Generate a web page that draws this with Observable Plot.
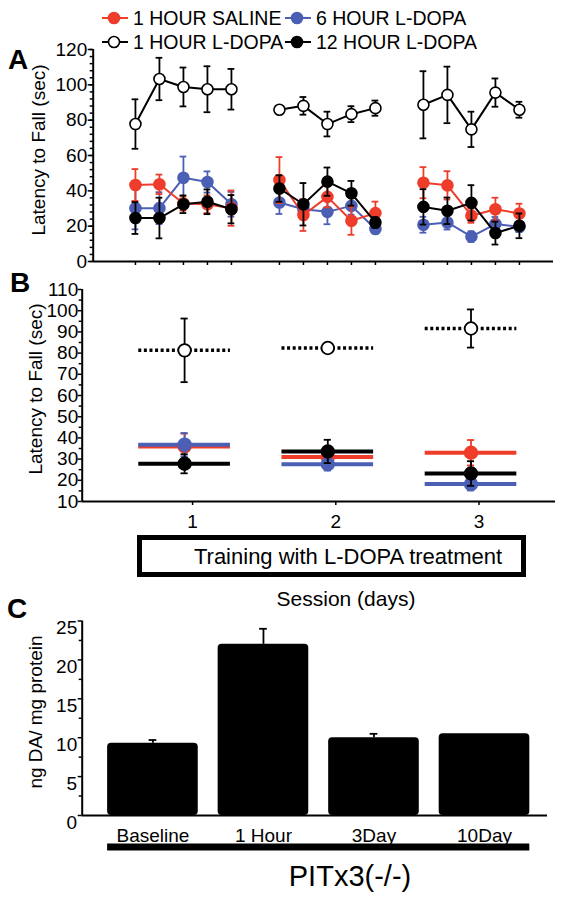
<!DOCTYPE html>
<html><head><meta charset="utf-8">
<script src="https://cdn.jsdelivr.net/npm/d3@7"></script>
<script src="https://cdn.jsdelivr.net/npm/@observablehq/plot@0.6"></script>
<style>
body{margin:0;background:#fff;}
#root{position:relative;width:567px;height:902px;font-family:"Liberation Sans",Arial,Helvetica,sans-serif;overflow:hidden;color:#000;}
#root svg{position:absolute;left:0;}
.abs{position:absolute;white-space:nowrap;line-height:1;}
.c{transform:translate(-50%,-50%);}
.rot{transform:translate(-50%,-50%) rotate(-90deg);}
.panel{font-weight:bold;font-size:28px;}
</style></head><body><div id="root"></div>
<script>
// ---------- DATA ----------
const seriesNames = ["1 HOUR SALINE", "6 HOUR L-DOPA", "1 HOUR L-DOPA", "12 HOUR L-DOPA"];
const seriesStroke = ["#ee3d2b", "#4b5fb4", "#000000", "#000000"];
const seriesFill = ["#ee3d2b", "#4b5fb4", "#ffffff", "#000000"];

// Panel A: trial positions (three sessions of five trials)
const trialPositions = [1, 2, 3, 4, 5, 7, 8, 9, 10, 11, 13, 14, 15, 16, 17];
const salineA = [43.3, 43.7, 32.8, 32.4, 30.2, 46.1, 26.3, 36.6, 23.1, 27.4, 44.6, 43.1, 25.9, 29.6, 27.2];
const salineAErr = [9, 5.5, 4, 5, 10, 13, 9, 6, 8, 6.5, 8.8, 8, 4, 6.5, 5.5];
const sixHourA = [30.2, 30.2, 47.4, 45, 32.4, 33.4, 29.6, 28.1, 31.5, 18.4, 20.8, 22.1, 14.1, 21.2, 19.7];
const sixHourAErr = [12, 9, 12, 6, 7, 6.5, 5, 7, 5, 2, 4.5, 4, 3, 4, 3];
const oneHourA = [77.8, 103.3, 98.8, 97.5, 97.5, 85.9, 88.1, 77.8, 83.4, 86.8, 88.7, 94.3, 74.8, 95.6, 85.9];
const oneHourAErr = [14, 12, 11, 13, 11.5, 1.5, 5, 7, 4.5, 4.3, 19, 16, 10, 8, 4.5];
const twelveHourA = [24.6, 24.6, 32.4, 33.8, 29.6, 41.3, 32.4, 45.2, 38.6, 22.1, 30.9, 28.7, 33.2, 16.1, 20.2];
const twelveHourAErr = [9, 11.5, 5, 7, 8, 7.5, 12, 8, 7, 3, 10, 7.5, 10, 6.5, 7];
const yTicksA = [0, 20, 40, 60, 80, 100, 120];

// Panel B: session means
const sessions = [1, 2, 3];
const salineB = [36, 31, 33];
const salineBErr = [6, 4, 6];
const sixHourB = [36.8, 27.6, 18.2];
const sixHourBErr = [5.5, 3, 3];
const oneHourB = [81.3, 82.4, 91.6];
const oneHourBErr = [15, 1, 9];
const twelveHourB = [27.8, 33.6, 23.2];
const twelveHourBErr = [4.5, 5.5, 5.8];
const yTicksB = [10, 20, 30, 40, 50, 60, 70, 80, 90, 100, 110];

// Panel C: dopamine content
const groupsC = ["Baseline", "1 Hour", "3Day", "10Day"];
const dopamineC = [9.3, 22.0, 10.0, 10.5];
const dopamineCErr = [0.4, 2.0, 0.5, 0];
const yTicksC = [0, 5, 10, 15, 20, 25];

// ---------- BUILD ----------
const root = document.getElementById("root");
const FONT = '"Liberation Sans", Arial, Helvetica, sans-serif';
const baseStyle = {fontFamily: FONT, fontSize: "19px", color: "#000", background: "transparent", overflow: "visible"};
const noText = () => "";

function rowsA(vals, errs, s) {
  return vals.map((v, i) => ({x: trialPositions[i], y: v, e: errs[i], s, g: Math.floor(i / 5)}));
}
function rowsB(vals, errs, s) {
  return vals.map((v, i) => ({x: sessions[i], y: v, e: errs[i], s}));
}
const seriesA = [rowsA(salineA, salineAErr, 0), rowsA(sixHourA, sixHourAErr, 1), rowsA(oneHourA, oneHourAErr, 2), rowsA(twelveHourA, twelveHourAErr, 3)];
const seriesB = [rowsB(salineB, salineBErr, 0), rowsB(sixHourB, sixHourBErr, 1), rowsB(oneHourB, oneHourBErr, 2), rowsB(twelveHourB, twelveHourBErr, 3)];

function place(svg, top) { svg.style.top = top + "px"; root.appendChild(svg); }

// ----- Panel A -----
const xDomA = [-0.76, 18.42];
const minorA = d3.range(yTicksA[0], yTicksA[yTicksA.length - 1] + 0.1, 4);
const marksA = [
  Plot.axisY({ticks: minorA, tickSize: 3, tickFormat: noText, label: null, strokeWidth: 1.5}),
  Plot.axisY({ticks: yTicksA, tickSize: 5, tickPadding: 1, label: null, fontSize: 19, strokeWidth: 1.5}),
  Plot.axisX({ticks: trialPositions, tickSize: 4, tickFormat: noText, label: null, strokeWidth: 1.5}),
  Plot.ruleY([yTicksA[0]], {strokeWidth: 2}),
  Plot.ruleX([xDomA[0]], {y1: yTicksA[0], y2: yTicksA[yTicksA.length - 1], strokeWidth: 2})
];
for (const s of [1, 0, 3, 2]) {
  const d = seriesA[s];
  marksA.push(
    Plot.line(d, {x: "x", y: "y", z: "g", stroke: seriesStroke[s], strokeWidth: 2}),
    Plot.ruleX(d, {x: "x", y1: r => r.y - r.e, y2: r => r.y + r.e, stroke: seriesStroke[s], strokeWidth: 1.8}),
    Plot.ruleY(d, {y: r => r.y + r.e, x1: r => r.x - 0.14, x2: r => r.x + 0.14, stroke: seriesStroke[s], strokeWidth: 1.8}),
    Plot.ruleY(d, {y: r => r.y - r.e, x1: r => r.x - 0.14, x2: r => r.x + 0.14, stroke: seriesStroke[s], strokeWidth: 1.8}),
    Plot.dot(d, {x: "x", y: "y", r: 5.5, fill: seriesFill[s], stroke: seriesStroke[s], strokeWidth: 1.6})
  );
}
place(Plot.plot({
  width: 567, height: 275, marginTop: 49, marginBottom: 14, marginLeft: 92.7, marginRight: 14,
  x: {domain: xDomA, axis: null}, y: {domain: [yTicksA[0], yTicksA[yTicksA.length - 1]], axis: null},
  style: baseStyle, marks: marksA
}), 0);

// ----- Panel B -----
const xDomB = [0.285, 3.59];
const minorB = d3.range(15, 110, 10);
const marksB = [
  Plot.axisY({ticks: minorB, tickSize: 3, tickFormat: noText, label: null, strokeWidth: 1.5}),
  Plot.axisY({ticks: yTicksB, tickSize: 4, tickPadding: 0, label: null, fontSize: 19, strokeWidth: 1.5}),
  Plot.axisX({ticks: sessions, tickSize: 4, tickPadding: 9, dx: 8, tickFormat: d3.format("d"), label: null, fontSize: 19, strokeWidth: 1.5}),
  Plot.ruleY([yTicksB[0]], {strokeWidth: 2}),
  Plot.ruleX([xDomB[0]], {y1: yTicksB[0], y2: yTicksB[yTicksB.length - 1], strokeWidth: 2})
];
for (const s of [0, 1, 3]) {
  marksB.push(Plot.ruleY(seriesB[s], {y: "y", x1: r => r.x - 0.32, x2: r => r.x + 0.32, stroke: seriesStroke[s], strokeWidth: 4}));
}
marksB.push(Plot.ruleY(seriesB[2], {y: "y", x1: r => r.x - 0.32, x2: r => r.x + 0.32, stroke: "#000", strokeWidth: 3.5, strokeDasharray: "3,2.6"}));
for (const s of [0, 1, 3, 2]) {
  const d = seriesB[s];
  marksB.push(
    Plot.ruleX(d, {x: "x", y1: r => r.y - r.e, y2: r => r.y + r.e, stroke: seriesStroke[s], strokeWidth: 1.8}),
    Plot.ruleY(d, {y: r => r.y + r.e, x1: r => r.x - 0.025, x2: r => r.x + 0.025, stroke: seriesStroke[s], strokeWidth: 1.8}),
    Plot.ruleY(d, {y: r => r.y - r.e, x1: r => r.x - 0.025, x2: r => r.x + 0.025, stroke: seriesStroke[s], strokeWidth: 1.8}),
    Plot.dot(d, {x: "x", y: "y", r: 6.3, fill: seriesFill[s], stroke: seriesStroke[s], strokeWidth: 1.8})
  );
}
place(Plot.plot({
  width: 567, height: 250, marginTop: 9, marginBottom: 29, marginLeft: 81.7, marginRight: 12,
  x: {domain: xDomB, axis: null}, y: {domain: [yTicksB[0], yTicksB[yTicksB.length - 1]], axis: null},
  style: baseStyle, marks: marksB
}), 280);

// ----- Panel C -----
const xDomC = [-0.64, 3.57];
const halfW = 0.41;
const dataC = groupsC.map((g, i) => ({i, g, v: dopamineC[i], e: dopamineCErr[i]}));
const minorC = d3.range(2.5, 25, 5);
place(Plot.plot({
  width: 567, height: 302, marginTop: 20.5, marginBottom: 87, marginLeft: 81.7, marginRight: 20,
  x: {domain: xDomC, axis: null}, y: {domain: [yTicksC[0], yTicksC[yTicksC.length - 1]], axis: null},
  style: baseStyle,
  marks: [
    Plot.axisY({ticks: minorC, tickSize: 3, tickFormat: noText, label: null, strokeWidth: 1.5}),
    Plot.axisY({ticks: yTicksC, tickSize: 4, tickFormat: noText, label: null, strokeWidth: 1.5}),
    Plot.axisY({ticks: yTicksC, tickSize: 0, tickPadding: 5, dy: 7, label: null, fontSize: 19}),
    Plot.axisX({ticks: dataC.map(d => d.i), tickFormat: i => groupsC[i], tickSize: 0, tickPadding: 13, label: null, fontSize: 19}),
    Plot.rect(dataC, {x1: d => d.i - halfW, x2: d => d.i + halfW, y1: 0, y2: "v", fill: "#000", rx: 4}),
    Plot.ruleX(dataC.filter(d => d.e > 0), {x: "i", y1: "v", y2: d => d.v + d.e, strokeWidth: 1.8}),
    Plot.ruleY(dataC.filter(d => d.e > 0), {y: d => d.v + d.e, x1: d => d.i - 0.035, x2: d => d.i + 0.035, strokeWidth: 1.8}),
    Plot.ruleY([yTicksC[0]], {strokeWidth: 2}),
    Plot.ruleX([xDomC[0]], {y1: yTicksC[0], y2: yTicksC[yTicksC.length - 1], strokeWidth: 2}),
    Plot.ruleY([yTicksC[0]], {x1: dataC[0].i - halfW, x2: dataC[dataC.length - 1].i + halfW, dy: 31.5, strokeWidth: 7})
  ]
}), 600);

// ---------- HTML annotations ----------
function addText(txt, css, cls) {
  const d = document.createElement("div");
  d.className = "abs " + (cls || "");
  d.textContent = txt;
  Object.assign(d.style, css);
  root.appendChild(d);
  return d;
}
addText("A", {left: "8px", top: "46px"}, "panel");
addText("B", {left: "10px", top: "269px"}, "panel");
addText("C", {left: "7px", top: "595px"}, "panel");

addText("Latency to Fall (sec)", {left: "38px", top: "150px", fontSize: "19px"}, "rot");
addText("Latency to Fall (sec)", {left: "35px", top: "389px", fontSize: "19px"}, "rot");
addText("ng DA/ mg protein", {left: "35px", top: "712px", fontSize: "19px"}, "rot");

// legend
const legendPos = [[101, 8.5], [284, 8.5], [101, 32.5], [284, 32.5]];
seriesNames.forEach((name, s) => {
  const [lx, ly] = legendPos[s];
  const sym = document.createElementNS("http://www.w3.org/2000/svg", "svg");
  sym.setAttribute("width", 28); sym.setAttribute("height", 16);
  sym.style.left = lx + "px"; sym.style.top = (ly + 1.5) + "px";
  sym.innerHTML = `<line x1="1" x2="27" y1="8" y2="8" stroke="${seriesStroke[s]}" stroke-width="2"/>` +
    `<circle cx="13" cy="8" r="5.5" fill="${seriesFill[s]}" stroke="${seriesStroke[s]}" stroke-width="1.6"/>`;
  root.appendChild(sym);
  addText(name, {left: (lx + 32) + "px", top: ly + "px", fontSize: "19.5px"});
});

// training box
const box = document.createElement("div");
Object.assign(box.style, {position: "absolute", left: "137px", top: "535px", width: "389px", height: "42px",
  border: "5px solid #000", boxSizing: "border-box"});
root.appendChild(box);
addText("Training with L-DOPA treatment", {left: "348px", top: "557px", fontSize: "22px"}, "c");
addText("Session (days)", {left: "346px", top: "598px", fontSize: "21px"}, "c");
addText("PITx3(-/-)", {left: "350px", top: "876px", fontSize: "29px"}, "c");
</script></body></html>
